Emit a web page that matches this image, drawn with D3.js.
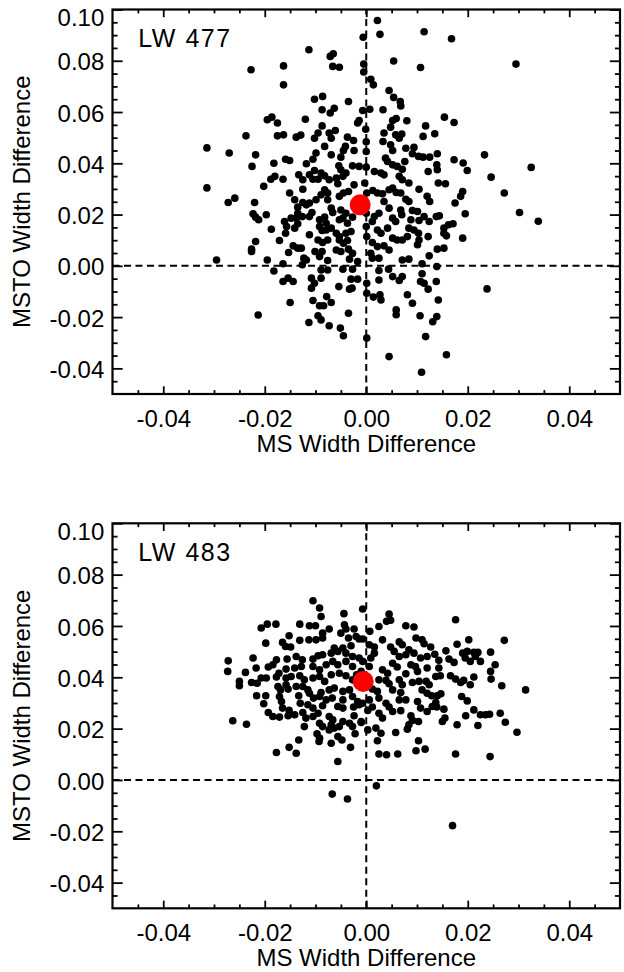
<!DOCTYPE html>
<html>
<head>
<meta charset="utf-8">
<script src="https://cdn.jsdelivr.net/npm/d3@7"></script>
<style>
  html, body { margin: 0; padding: 0; background: #fff; }
  svg { display: block; }
  text { font-family: "Liberation Sans", Arial, Helvetica, sans-serif; fill: #000; }
</style>
</head>
<body>
<svg id="chart" width="624" height="972"></svg>
<script>
// ---------------- DATA ----------------
const xMajorTicks = [-0.04, -0.02, 0.00, 0.02, 0.04];
const yMajorTicks = [-0.04, -0.02, 0.00, 0.02, 0.04, 0.06, 0.08, 0.10];
const xDomain = [-0.05, 0.05];
const yDomain = [-0.05, 0.10];
const panelNames = ["LW 477", "LW 483"];
const xTitle = "MS Width Difference";
const yTitle = "MSTO Width Difference";

// [MS width difference, MSTO width difference]
const lw477Points = [
[-0.0006,0.0892],[-0.0113,0.0843],[-0.0071,0.0817],[-0.0065,0.0827],[-0.0066,0.0778],[-0.0053,0.0775],
[-0.0163,0.078],[-0.0227,0.0765],[-0.0163,0.0706],[-0.0005,0.0787],[-0.0005,0.0756],[-0.0102,0.065],
[-0.0086,0.0661],[-0.0035,0.0641],[-0.0087,0.0609],[-0.0071,0.0596],[-0.0063,0.0615],[-0.0007,0.0606],
[-0.0195,0.057],[-0.0186,0.058],[-0.0175,0.0557],[-0.012,0.0572],[-0.0087,0.0546],[-0.0017,0.0557],
[-0.0014,0.0567],[-0.0237,0.0507],[-0.0175,0.0507],[-0.0163,0.0511],[-0.0138,0.0502],[-0.0129,0.051],
[-0.0102,0.0498],[-0.0095,0.0518],[-0.0073,0.0518],[-0.0061,0.0528],[-0.0069,0.0498],[-0.0037,0.0502],
[-0.0025,0.0489],[-0.0001,0.0533],[-0.0314,0.046],[-0.027,0.044],[-0.0218,0.0433],[-0.0082,0.0466],
[-0.0041,0.0466],[-0.0045,0.045],[-0.0024,0.045],[0.0,0.0484],[-0.0159,0.0416],[-0.0151,0.0411],
[-0.0099,0.044],[-0.0069,0.0433],[-0.005,0.0424],[-0.0182,0.04],[-0.0225,0.0388],[-0.0105,0.0416],
[-0.0118,0.0398],[-0.0027,0.039],[-0.0014,0.0388],[0.0,0.0385],[-0.0054,0.039],[-0.005,0.0375],
[-0.0102,0.0372],[-0.0089,0.0362],[-0.0082,0.0351],[-0.0188,0.0338],[-0.018,0.0349],[-0.0164,0.0338],
[-0.0133,0.0355],[-0.0125,0.0336],[-0.0112,0.0355],[-0.0105,0.0338],[-0.0095,0.0338],[-0.0073,0.0336],
[-0.0059,0.0342],[-0.0056,0.032],[-0.0046,0.0349],[-0.004,0.0362],[-0.0202,0.031],[-0.0314,0.0304],
[-0.0125,0.0299],[-0.0151,0.0284],[-0.0082,0.0297],[-0.0089,0.0277],[-0.0076,0.0284],[-0.0053,0.0271],
[-0.0045,0.0284],[-0.0035,0.029],[-0.0024,0.0316],[-0.0003,0.0323],[0.0001,0.0284],[-0.0272,0.0247],
[-0.0259,0.0264],[-0.022,0.0247],[-0.0141,0.0258],[-0.0125,0.0247],[-0.0112,0.0245],[-0.0099,0.0258],
[-0.0076,0.0258],[-0.0135,0.0229],[-0.0118,0.0238],[-0.0069,0.0225],[-0.0066,0.0208],[-0.005,0.0218],
[-0.004,0.0205],[-0.0223,0.0203],[-0.0218,0.019],[-0.0212,0.018],[-0.0197,0.0199],[-0.0135,0.0205],
[-0.0138,0.0186],[-0.0126,0.0192],[-0.0112,0.0192],[-0.0107,0.0208],[-0.0092,0.018],[-0.0082,0.019],
[-0.0079,0.0166],[-0.0053,0.018],[-0.0046,0.0186],[-0.0037,0.0166],[-0.0027,0.019],[0.0,0.0205],
[-0.0161,0.0173],[-0.0148,0.0186],[-0.0157,0.0153],[-0.0141,0.0147],[-0.0135,0.0164],[-0.0187,0.0143],
[-0.0092,0.0153],[-0.0087,0.0138],[-0.0079,0.014],[-0.0069,0.0147],[-0.0059,0.0127],[-0.0053,0.0114],
[-0.004,0.0127],[-0.003,0.0134],[0.0,0.0153],[0.0001,0.0114],[-0.0112,0.0121],[-0.0159,0.0127],
[-0.0171,0.0099],[-0.0218,0.0095],[-0.0144,0.0078],[-0.0135,0.0069],[-0.0128,0.0069],[-0.0153,0.0052],
[-0.0095,0.0101],[-0.0086,0.0091],[-0.0076,0.0101],[-0.0053,0.0101],[-0.0045,0.0088],[-0.0037,0.0099],
[-0.0059,0.0062],[-0.005,0.0056],[-0.0035,0.0065],[-0.0027,0.0049],[-0.0226,0.0065],[-0.0226,0.0056],
[-0.0101,0.0056],[-0.0092,0.0036],[-0.0087,0.0056],[-0.0123,0.003],[-0.0118,0.0023],[-0.0076,0.0021],
[-0.0017,0.0017],[-0.0033,0.0026],[-0.0295,0.0023],[-0.0195,0.0023],[-0.0164,0.0008],[-0.0126,0.0004],
[-0.0182,-0.002],[-0.0089,-0.0016],[-0.0076,-0.0016],[-0.0046,-0.0013],[-0.0027,-0.0013],[-0.0154,-0.0048],
[-0.0144,-0.0061],[-0.0164,-0.0061],[-0.0108,-0.0048],[-0.0102,-0.0068],[-0.0089,-0.0048],[-0.0108,-0.0087],
[-0.0054,-0.0081],[-0.003,-0.0052],[-0.0017,-0.0052],[-0.0033,-0.0091],[-0.0028,-0.0087],[0.0001,-0.0068],
[0.0001,-0.0107],[-0.015,-0.0143],[-0.0105,-0.0135],[-0.0092,-0.0156],[-0.0084,-0.0156],[-0.0078,-0.012],
[-0.0069,-0.0143],[-0.0213,-0.0192],[-0.0095,-0.0195],[-0.0089,-0.0211],[-0.0113,-0.0221],[-0.0073,-0.0234],
[-0.0051,-0.0243],[-0.0045,-0.0273],[-0.0035,-0.0185],[0.0001,-0.0282],
[0.0022,0.0957],[0.0027,0.0903],[0.0114,0.0913],[0.0168,0.0886],[0.0054,0.0799],[0.0107,0.0774],
[0.0295,0.0787],[0.0009,0.0728],[0.0014,0.0706],[0.0045,0.0684],[0.0054,0.0657],[0.0067,0.0641],
[0.0068,0.0624],[0.0007,0.0611],[0.0033,0.0609],[0.0154,0.058],[0.0173,0.0559],[0.0052,0.0567],
[0.0059,0.0575],[0.008,0.0566],[0.0048,0.0541],[0.0117,0.0546],[0.0112,0.0505],[0.0135,0.0515],
[0.0035,0.0518],[0.0058,0.0511],[0.007,0.0514],[0.0065,0.0498],[0.0033,0.0485],[0.0048,0.0472],
[0.0052,0.045],[0.0078,0.0459],[0.0094,0.0462],[0.0,0.0446],[0.0091,0.0437],[0.0103,0.0427],
[0.0112,0.0424],[0.0125,0.0424],[0.014,0.0437],[0.0233,0.0433],[0.0038,0.042],[0.0042,0.0407],
[0.0076,0.0407],[0.0173,0.0414],[0.0191,0.0401],[0.0199,0.0372],[0.0325,0.0384],[0.0246,0.0346],
[0.0052,0.0394],[0.0061,0.0388],[0.0071,0.0377],[0.0139,0.0394],[0.014,0.0375],[0.0122,0.0368],
[0.0016,0.0368],[0.0029,0.0362],[0.0035,0.0355],[0.0065,0.0349],[0.0071,0.0336],[0.0084,0.0323],
[0.0142,0.0323],[0.0156,0.032],[0.0272,0.0284],[0.0104,0.0299],[0.0013,0.0294],[0.0022,0.0284],
[0.0032,0.0281],[0.0045,0.0297],[0.0052,0.0303],[0.0059,0.0286],[0.0068,0.0284],[0.019,0.029],
[0.0186,0.0271],[0.0175,0.0245],[0.012,0.0271],[0.0125,0.0251],[0.0078,0.026],[0.0084,0.0251],
[0.0035,0.0251],[0.0045,0.0225],[0.0068,0.0218],[0.007,0.0199],[0.0091,0.0216],[0.0101,0.0212],
[0.0114,0.0192],[0.0124,0.0173],[0.0138,0.0192],[0.0144,0.0195],[0.0195,0.0203],[0.0302,0.0208],
[0.0339,0.0174],[0.0016,0.0192],[0.0025,0.0205],[0.0052,0.0186],[0.0058,0.0173],[0.0088,0.018],
[0.0104,0.0177],[0.0012,0.0173],[0.0022,0.014],[0.0029,0.0127],[0.0042,0.0147],[0.0084,0.0147],
[0.0094,0.014],[0.0103,0.0127],[0.0153,0.0147],[0.0162,0.016],[0.0171,0.0164],[0.0158,0.0117],
[0.0153,0.0127],[0.019,0.0108],[0.0052,0.0108],[0.0061,0.0101],[0.0071,0.0101],[0.0081,0.0114],
[0.0104,0.0101],[0.0101,0.0082],[0.0122,0.0114],[0.0012,0.0091],[0.0022,0.0075],[0.0035,0.0078],
[0.0045,0.0062],[0.0009,0.0049],[0.0012,0.003],[0.0025,0.003],[0.014,0.0065],[0.0153,0.0069],
[0.0124,0.0039],[0.0071,0.0023],[0.0084,0.0026],[0.011,0.0008],[0.0139,-0.0003],[0.0025,-0.0018],
[0.0044,-0.0013],[0.0052,-0.0042],[0.0065,-0.0057],[0.0071,-0.0042],[0.011,-0.0031],[0.0107,-0.0061],
[0.0114,-0.0068],[0.0138,-0.0061],[0.0122,-0.0091],[0.0238,-0.009],[0.0025,-0.0055],[0.0014,-0.0122],
[0.0029,-0.0133],[0.0027,-0.0113],[0.0081,-0.0113],[0.0091,-0.0146],[0.0142,-0.0133],[0.0059,-0.0172],
[0.0059,-0.0191],[0.0106,-0.0195],[0.0139,-0.0198],[0.0131,-0.0218],[0.0117,-0.0276],[0.0158,-0.0347],
[0.0045,-0.0354],[0.0109,-0.0415]
];

const lw483Points = [
[-0.0105,0.0698],[-0.0092,0.067],[-0.0089,0.0637],[-0.0044,0.0648],[-0.0007,0.0666],[-0.0207,0.0592],
[-0.0195,0.0607],[-0.0178,0.0607],[-0.0131,0.0607],[-0.0112,0.0601],[-0.01,0.0601],[-0.0086,0.0572],
[-0.0073,0.0588],[-0.0043,0.0605],[-0.004,0.0588],[-0.005,0.0572],[-0.0024,0.0588],[-0.002,0.0559],
[-0.0152,0.0562],[-0.0131,0.0544],[-0.0113,0.0546],[-0.0099,0.0546],[-0.0086,0.0553],[-0.0035,0.0553],
[-0.0014,0.0549],[-0.0198,0.0533],[-0.0165,0.0536],[-0.0159,0.052],[-0.0149,0.0518],[-0.0063,0.0514],
[-0.0046,0.0514],[-0.003,0.0523],[-0.0272,0.0464],[-0.0273,0.0423],[-0.0223,0.0475],[-0.0177,0.0468],
[-0.0156,0.0471],[-0.0138,0.0481],[-0.0126,0.0468],[-0.0105,0.0471],[-0.0095,0.0484],[-0.0086,0.0488],
[-0.0069,0.0494],[-0.0056,0.0501],[-0.004,0.0494],[-0.0027,0.0481],[-0.0014,0.0475],[-0.0217,0.0436],
[-0.0193,0.044],[-0.0184,0.0449],[-0.0158,0.0432],[-0.0141,0.0436],[-0.0128,0.0442],[-0.0105,0.0442],
[-0.0092,0.0429],[-0.0079,0.0449],[-0.0066,0.0462],[-0.0056,0.0449],[-0.004,0.0462],[-0.0027,0.0442],
[-0.0238,0.0419],[-0.025,0.0384],[-0.025,0.0367],[-0.0226,0.038],[-0.0215,0.0377],[-0.0207,0.0397],
[-0.0197,0.0397],[-0.0177,0.0401],[-0.0172,0.0416],[-0.0158,0.0397],[-0.0148,0.0403],[-0.0131,0.0406],
[-0.0122,0.039],[-0.0105,0.0397],[-0.0092,0.0403],[-0.0082,0.0384],[-0.0069,0.041],[-0.0053,0.0416],
[-0.004,0.0406],[-0.0027,0.039],[-0.0019,0.041],[-0.0174,0.0364],[-0.0169,0.0351],[-0.0158,0.0371],
[-0.0154,0.0354],[-0.0138,0.0364],[-0.0125,0.0364],[-0.0115,0.0351],[-0.0112,0.0338],[-0.0089,0.0341],
[-0.0073,0.0351],[-0.0063,0.0358],[-0.0046,0.0345],[-0.0033,0.0351],[-0.0216,0.0328],[-0.0198,0.0328],
[-0.0171,0.0325],[-0.0167,0.0306],[-0.0133,0.0328],[-0.013,0.0299],[-0.0104,0.0319],[-0.0092,0.0325],
[-0.0079,0.0312],[-0.0067,0.0319],[-0.0046,0.0312],[-0.0027,0.0325],[-0.0017,0.0306],[-0.0202,0.0297],
[-0.0165,0.028],[-0.0152,0.0271],[-0.0115,0.0293],[-0.0105,0.028],[-0.0086,0.0289],[-0.0056,0.0286],
[-0.0046,0.028],[-0.0025,0.0284],[-0.0014,0.0293],[-0.0193,0.0263],[-0.0184,0.0247],[-0.0171,0.0245],
[-0.0154,0.025],[-0.0141,0.0254],[-0.0125,0.0263],[-0.0119,0.0241],[-0.0105,0.0247],[-0.0095,0.026],
[-0.0073,0.0247],[-0.0066,0.0234],[-0.0046,0.0228],[-0.0033,0.0221],[-0.0024,0.025],[-0.001,0.0228],
[-0.0263,0.0231],[-0.0236,0.0217],[-0.0122,0.0208],[-0.0092,0.0221],[-0.0086,0.0208],[-0.0069,0.0215],
[-0.0063,0.0202],[-0.0053,0.0208],[-0.0027,0.0208],[-0.0022,0.018],[-0.0097,0.018],[-0.0092,0.0163],
[-0.0073,0.0195],[-0.0056,0.0169],[-0.0048,0.0156],[-0.0133,0.0156],[-0.0093,0.015],[-0.0069,0.0143],
[-0.0031,0.0127],[-0.0152,0.0127],[-0.0138,0.0104],[-0.0177,0.0107],[-0.0056,0.0072],[-0.0067,-0.0055],
[-0.0037,-0.0074],
[0.0045,0.0646],[0.004,0.0618],[0.0048,0.0622],[0.0176,0.0624],[0.0025,0.0598],[0.0078,0.0601],
[0.0094,0.0596],[0.0007,0.0579],[-0.0007,0.0549],[0.0032,0.0546],[0.0272,0.0544],[0.0065,0.0538],
[0.0071,0.0527],[0.0098,0.0553],[0.011,0.0546],[0.0114,0.0531],[0.0179,0.0529],[0.0202,0.0546],
[0.0006,0.0527],[0.0016,0.0518],[0.0048,0.0518],[0.0055,0.0501],[0.0084,0.0507],[0.0094,0.0494],
[0.0127,0.0518],[0.0157,0.0503],[0.0135,0.049],[0.019,0.0494],[0.0199,0.0501],[0.0212,0.0497],
[0.022,0.0497],[0.0245,0.0498],[0.0016,0.0494],[0.0009,0.0475],[0.0065,0.0481],[0.0078,0.0488],
[0.0107,0.0475],[0.012,0.0481],[0.0143,0.0466],[0.0163,0.0471],[0.0173,0.0458],[0.0195,0.0475],
[0.0205,0.0462],[0.0215,0.0481],[0.0225,0.0462],[0.0254,0.0449],[-0.0007,0.0462],[0.0006,0.0442],
[0.0052,0.0455],[0.0061,0.044],[0.0088,0.0449],[0.0097,0.0442],[0.012,0.0436],[0.0143,0.0436],
[0.0032,0.0429],[0.0042,0.0416],[0.0245,0.0423],[-0.001,0.0423],[0.0078,0.0414],[0.0101,0.0423],
[0.0137,0.0403],[0.0146,0.0406],[0.0166,0.0406],[0.0176,0.0393],[0.0186,0.038],[0.0192,0.0388],
[0.0212,0.0401],[0.0205,0.0371],[0.0246,0.0393],[0.0267,0.0367],[0.0314,0.0351],[0.0025,0.039],
[0.0039,0.0388],[0.0045,0.0375],[0.0065,0.039],[0.0071,0.0371],[0.0091,0.038],[0.0104,0.0384],
[0.0118,0.0384],[0.0124,0.0371],[0.0012,0.0354],[0.0022,0.0345],[0.0052,0.0351],[0.0068,0.0341],
[0.011,0.0351],[0.012,0.0338],[0.0129,0.0328],[0.014,0.0328],[0.0147,0.0336],[0.0188,0.0325],
[0.0199,0.0308],[0.0006,0.0312],[-0.0007,0.0299],[0.0025,0.0319],[0.0039,0.0299],[0.0065,0.0312],
[0.0078,0.0312],[0.0101,0.0306],[0.0137,0.0302],[0.0139,0.0284],[0.0153,0.0276],[0.0012,0.0284],
[0.0003,0.0271],[0.0045,0.0284],[0.0052,0.0267],[0.0107,0.028],[0.012,0.0267],[0.013,0.0286],
[0.0212,0.0273],[0.0225,0.0254],[0.0235,0.0254],[0.0243,0.0256],[0.0264,0.026],[0.0196,0.025],
[0.0025,0.026],[0.0032,0.0241],[0.0068,0.027],[0.0088,0.025],[0.0091,0.0232],[0.0084,0.0215],
[0.0103,0.0228],[0.015,0.0228],[0.0155,0.0241],[0.0179,0.0215],[0.022,0.0212],[0.0274,0.0225],
[0.0297,0.0186],[-0.001,0.0224],[0.0003,0.0195],[0.0019,0.0202],[0.0029,0.0182],[0.0022,0.0153],
[0.0058,0.0185],[0.0081,0.0198],[0.0103,0.0153],[0.0098,0.0114],[0.0116,0.012],[0.0025,0.0101],
[0.004,0.0098],[0.0062,0.0101],[0.0176,0.0101],[0.0244,0.0091],[0.002,-0.0023],[0.017,-0.0178]
];

// mean offsets (red markers)
const lw477Mean = [-0.0012, 0.0238];
const lw483Mean = [-0.0006, 0.0384];

// ---------------- DRAWING ----------------
const svg = d3.select("#chart");
const plotLeft = 112.5, plotRight = 620;
const panels = [
  { name: panelNames[0], points: lw477Points, mean: lw477Mean, top: 9.5, bottom: 394 },
  { name: panelNames[1], points: lw483Points, mean: lw483Mean, top: 523.3, bottom: 908.3 }
];

const x = d3.scaleLinear().domain(xDomain).range([plotLeft, plotRight]);
const xMinor = d3.range(-0.045, 0.0451, 0.005).map(v => +v.toFixed(3)).filter(v => !xMajorTicks.some(t => Math.abs(t - v) < 1e-9));
const yMinor = d3.range(-0.045, 0.0951, 0.005).map(v => +v.toFixed(3)).filter(v => !yMajorTicks.some(t => Math.abs(t - v) < 1e-9));
const fmt = v => (Math.abs(v) < 1e-9 ? "0.00" : v.toFixed(2));

const plotH = 384.5, plotW = plotRight - plotLeft;
const xMajorLen = 0.02 * plotH, xMinorLen = xMajorLen / 2;
const yMajorLen = 0.02 * plotW, yMinorLen = yMajorLen / 2;

panels.forEach(p => {
  const y = d3.scaleLinear().domain(yDomain).range([p.bottom, p.top]);
  const g = svg.append("g");

  // zero reference lines
  g.append("line")
    .attr("x1", x(0)).attr("x2", x(0)).attr("y1", y(yDomain[0])).attr("y2", y(yDomain[1]))
    .attr("stroke", "#000").attr("stroke-width", 2).attr("stroke-dasharray", "7,4.5");
  g.append("line")
    .attr("x1", x(xDomain[0])).attr("x2", x(xDomain[1])).attr("y1", y(0)).attr("y2", y(0))
    .attr("stroke", "#000").attr("stroke-width", 2).attr("stroke-dasharray", "7,4.5");

  // points
  g.append("g").selectAll("circle").data(p.points).join("circle")
    .attr("cx", d => x(d[0])).attr("cy", d => y(d[1])).attr("r", 3.8).attr("fill", "#000");

  // mean
  g.append("circle").attr("cx", x(p.mean[0])).attr("cy", y(p.mean[1])).attr("r", 10.5).attr("fill", "#ff0000");

  // axes
  const styleAxis = sel => {
    sel.select(".domain").remove();
    sel.selectAll(".tick line").attr("stroke", "#000").attr("stroke-width", 1.8);
    sel.selectAll("text").attr("font-size", 24).attr("fill", "#000")
      .attr("font-family", '"Liberation Sans", Arial, Helvetica, sans-serif');
  };
  // bottom
  g.append("g").attr("transform", `translate(0,${p.bottom})`)
    .call(d3.axisBottom(x).tickValues(xMajorTicks).tickSize(-xMajorLen).tickPadding(15.5).tickFormat(fmt))
    .call(styleAxis);
  g.append("g").attr("transform", `translate(0,${p.bottom})`)
    .call(d3.axisBottom(x).tickValues(xMinor).tickSize(-xMinorLen).tickFormat(""))
    .call(styleAxis);
  // top
  g.append("g").attr("transform", `translate(0,${p.top})`)
    .call(d3.axisTop(x).tickValues(xMajorTicks).tickSize(-xMajorLen).tickFormat(""))
    .call(styleAxis);
  g.append("g").attr("transform", `translate(0,${p.top})`)
    .call(d3.axisTop(x).tickValues(xMinor).tickSize(-xMinorLen).tickFormat(""))
    .call(styleAxis);
  // left
  const left = g.append("g").attr("transform", `translate(${plotLeft},0)`)
    .call(d3.axisLeft(y).tickValues(yMajorTicks).tickSize(-yMajorLen).tickPadding(8.2).tickFormat(fmt))
    .call(styleAxis);
  left.selectAll("text").attr("dy", d => (Math.abs(d - yDomain[1]) < 1e-9 ? "0.68em" : "0.38em"));
  g.append("g").attr("transform", `translate(${plotLeft},0)`)
    .call(d3.axisLeft(y).tickValues(yMinor).tickSize(-yMinorLen).tickFormat(""))
    .call(styleAxis);
  // right
  g.append("g").attr("transform", `translate(${plotRight},0)`)
    .call(d3.axisRight(y).tickValues(yMajorTicks).tickSize(-yMajorLen).tickFormat(""))
    .call(styleAxis);
  g.append("g").attr("transform", `translate(${plotRight},0)`)
    .call(d3.axisRight(y).tickValues(yMinor).tickSize(-yMinorLen).tickFormat(""))
    .call(styleAxis);

  // frame
  g.append("rect")
    .attr("x", plotLeft).attr("y", p.top).attr("width", plotW).attr("height", p.bottom - p.top)
    .attr("fill", "none").attr("stroke", "#000").attr("stroke-width", 2.2);

  // panel label
  g.append("text").attr("x", plotLeft + 25.8).attr("y", p.top + 37.5)
    .attr("font-size", 25).attr("letter-spacing", "1.5px").text(p.name);

  // axis titles
  g.append("text").attr("x", (plotLeft + plotRight) / 2).attr("y", p.bottom + 58)
    .attr("text-anchor", "middle").attr("font-size", 24).text(xTitle);
  g.append("text")
    .attr("transform", `translate(29.5,${(p.top + p.bottom) / 2}) rotate(-90)`)
    .attr("text-anchor", "middle").attr("font-size", 24).text(yTitle);
});
</script>
</body>
</html>
